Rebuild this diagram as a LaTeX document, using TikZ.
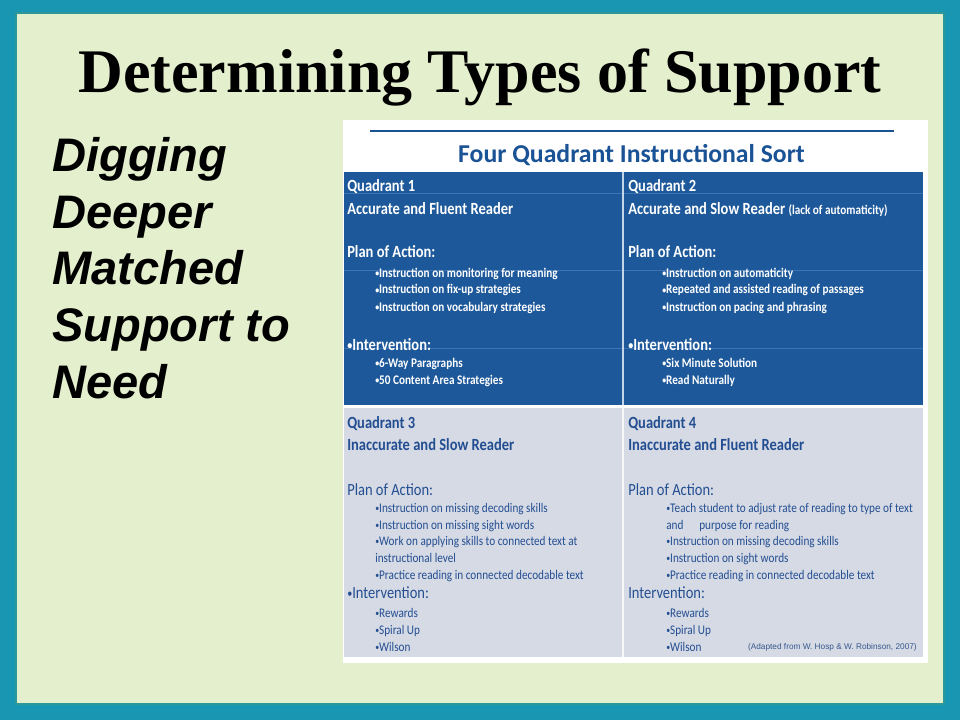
\documentclass[tikz,border=0pt]{standalone}
\usepackage{fontspec}
\usepackage{graphicx}
\usepackage{tikz}
\usetikzlibrary{positioning}
\newfontfamily\titlefont{Liberation Serif}
\newfontfamily\sidefont{Liberation Sans}
\newfontfamily\headfont{Carlito}
\newfontfamily\sortfont{Carlito}[FakeStretch=0.85]
\newcommand{\qbul}{\raisebox{0.12ex}{\scalebox{0.7}{•}}}
\definecolor{slideTeal}{RGB}{24,150,178}
\definecolor{slideEdge}{RGB}{45,150,150}
\definecolor{slidePanel}{RGB}{228,239,205}
\definecolor{quadBlue}{RGB}{28,88,154}
\definecolor{quadLine}{RGB}{62,115,178}
\definecolor{quadGray}{RGB}{213,218,228}
\definecolor{quadInk}{RGB}{36,78,146}
\definecolor{sortInk}{RGB}{26,82,150}
\tikzset{
    slideTitle/.style={
        ,   font=\titlefont\bfseries\fontsize{46.5}{50}\selectfont
        ,   text = black
        ,   inner sep=0pt
        ,   anchor=base
    },
    sideText/.style={
        ,   font=\sidefont\bfseries\itshape\fontsize{35.3}{40}\selectfont
        ,   text = black
        ,   inner sep=0pt
        ,   anchor=base west
    },
    sortTitle/.style={
        ,   font=\headfont\bfseries\fontsize{19.3}{22}\selectfont
        ,   text = sortInk
        ,   inner sep=0pt
        ,   anchor=base
    },
    qHead/.style={
        ,   font=\sortfont\bfseries\fontsize{12.8}{14}\selectfont
        ,   text = white
        ,   inner sep=0pt
        ,   anchor=base west
    },
    qItem/.style={
        ,   font=\sortfont\bfseries\fontsize{9.9}{11}\selectfont
        ,   text = white
        ,   inner sep=0pt
        ,   anchor=base west
    },
    gHead/.style={
        ,   font=\sortfont\bfseries\fontsize{12.8}{14}\selectfont
        ,   text = quadInk
        ,   inner sep=0pt
        ,   anchor=base west
    },
    gSub/.style={
        ,   font=\sortfont\fontsize{12.8}{14}\selectfont
        ,   text = quadInk
        ,   inner sep=0pt
        ,   anchor=base west
    },
    gItem/.style={
        ,   font=\sortfont\fontsize{9.9}{11}\selectfont
        ,   text = quadInk
        ,   inner sep=0pt
        ,   anchor=base west
    },
    sourceNote/.style={
        ,   font=\sidefont\fontsize{6.2}{7}\selectfont
        ,   text = quadInk!80!gray
        ,   inner sep=0pt
        ,   anchor=base east
    }
}
\begin{document}
\begin{tikzpicture}[x=0.75pt, y=-0.75pt]
			\useasboundingbox (0,0) rectangle (960,720);
			% slide frame
			\fill[slideTeal] (0,0) rectangle (960,720);
			\fill[slidePanel, draw=slideEdge, line width=2pt] (16,13) rectangle (944,704);
			
			\node[slideTitle] (title) at (480,93) {Determining Types of Support};
			
			\foreach \txt [count=\i] in {Digging, Deeper, Matched, Support to, Need}{
				\node[sideText] (side\i) at (52,{172+56.5*(\i-1)}) {\txt};
			}
			
			% the sort table
			\fill[white] (343,120) rectangle (928,663);
			\draw[sortInk, line width=1.5pt] (370,131) -- (894,131);
			\node[sortTitle] (sort) at (631.5,163) {Four Quadrant Instructional Sort};
			
			\fill[quadBlue] (344,172) rectangle (923,405);
			\fill[quadGray] (344,408) rectangle (923,657);
			\foreach \y in {193,270,348}{
				\draw[quadLine, line width=0.5pt] (344,\y) -- (923,\y);
			}
			\draw[white!75!quadBlue, line width=1.2pt] (623,172) -- (623,405);
			\draw[white!80!quadGray, line width=1.2pt] (623,408) -- (623,657);
			
			% quadrant 1
			\node[qHead] (q1) at (347,192) {Quadrant 1};
			\node[qHead] (q1a) at (347,215) {Accurate and Fluent Reader};
			\node[qHead] (q1p) at (347,258) {Plan of Action:};
			\node[qItem] (q1p1) at (375,277) {\qbul Instruction on monitoring for meaning};
			\node[qItem] (q1p2) at (375,294) {\qbul Instruction on fix-up strategies};
			\node[qItem] (q1p3) at (375,311) {\qbul Instruction on vocabulary strategies};
			\node[qHead] (q1i) at (347,350) {\qbul Intervention:};
			\node[qItem] (q1i1) at (375,367) {\qbul 6-Way Paragraphs};
			\node[qItem] (q1i2) at (375,384) {\qbul 50 Content Area Strategies};
			
			% quadrant 2
			\node[qHead] (q2) at (628,192) {Quadrant 2};
			\node[qHead] (q2a) at (628,215) {Accurate and Slow Reader {\fontsize{9.9}{11}\selectfont(lack of automaticity)}};
			\node[qHead] (q2p) at (628,258) {Plan of Action:};
			\node[qItem] (q2p1) at (662,277) {\qbul Instruction on automaticity};
			\node[qItem] (q2p2) at (662,294) {\qbul Repeated and assisted reading of passages};
			\node[qItem] (q2p3) at (662,311) {\qbul Instruction on pacing and phrasing};
			\node[qHead] (q2i) at (628,350) {\qbul Intervention:};
			\node[qItem] (q2i1) at (662,367) {\qbul Six Minute Solution};
			\node[qItem] (q2i2) at (662,384) {\qbul Read Naturally};
			
			% quadrant 3
			\node[gHead] (q3) at (347,428) {Quadrant 3};
			\node[gHead] (q3a) at (347,450) {Inaccurate and Slow Reader};
			\node[gSub] (q3p) at (347,495) {Plan of Action:};
			\node[gItem] (q3p1) at (375,512) {\qbul Instruction on missing decoding skills};
			\node[gItem] (q3p2) at (375,529) {\qbul Instruction on missing sight words};
			\node[gItem] (q3p3) at (375,545) {\qbul Work on applying skills to connected text at};
			\node[gItem] (q3p4) at (375,562) {instructional level};
			\node[gItem] (q3p5) at (375,579) {\qbul Practice reading in connected decodable text};
			\node[gSub] (q3i) at (347,598) {\qbul Intervention:};
			\node[gItem] (q3i1) at (375,617) {\qbul Rewards};
			\node[gItem] (q3i2) at (375,634) {\qbul Spiral Up};
			\node[gItem] (q3i3) at (375,651) {\qbul Wilson};
			
			% quadrant 4
			\node[gHead] (q4) at (628,428) {Quadrant 4};
			\node[gHead] (q4a) at (628,450) {Inaccurate and Fluent Reader};
			\node[gSub] (q4p) at (628,495) {Plan of Action:};
			\node[gItem] (q4p1) at (666,512) {\qbul Teach student to adjust rate of reading to type of text};
			\node[gItem] (q4p2) at (666,529) {and\hspace{1.2em}purpose for reading};
			\node[gItem] (q4p3) at (666,545) {\qbul Instruction on missing decoding skills};
			\node[gItem] (q4p4) at (666,562) {\qbul Instruction on sight words};
			\node[gItem] (q4p5) at (666,579) {\qbul Practice reading in connected decodable text};
			\node[gSub] (q4i) at (628,598) {Intervention:};
			\node[gItem] (q4i1) at (666,617) {\qbul Rewards};
			\node[gItem] (q4i2) at (666,634) {\qbul Spiral Up};
			\node[gItem] (q4i3) at (666,651) {\qbul Wilson};
			\node[sourceNote] (src) at (917,649) {(Adapted from W. Hosp \& W. Robinson, 2007)};
			\end{tikzpicture}
\end{document}
